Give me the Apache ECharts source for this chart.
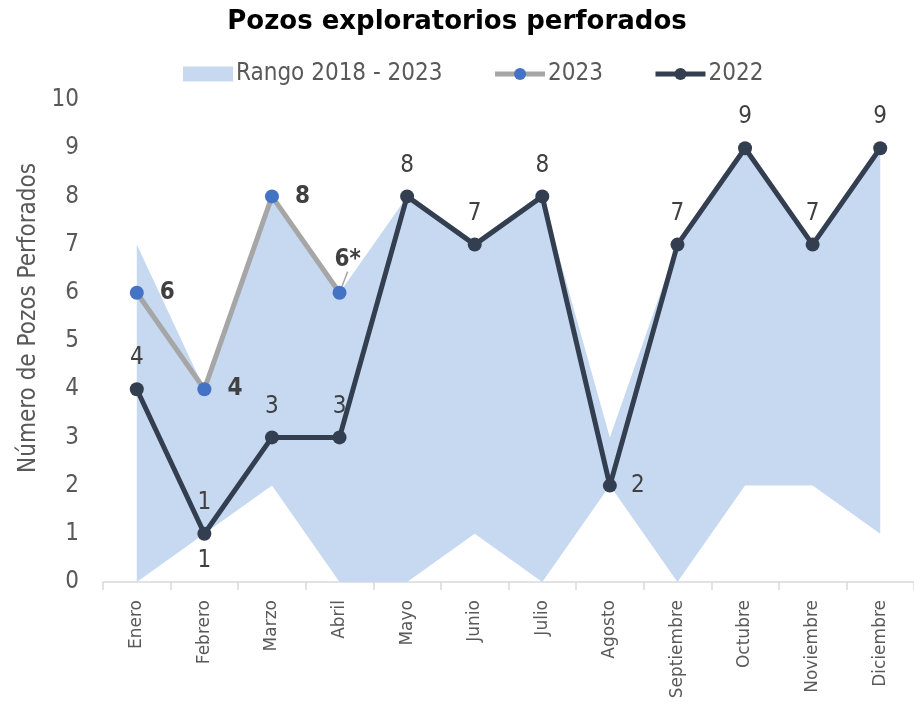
<!DOCTYPE html>
<html>
<head>
<meta charset="utf-8">
<script src="https://cdn.jsdelivr.net/npm/echarts@6/dist/echarts.min.js"></script>
<style>
html,body{margin:0;padding:0;background:#fff;}
#chart{width:914px;height:708px;}
</style>
</head>
<body>
<div id="chart"></div>
<script>
// Monthly exploratory wells drilled
const months = ['Enero','Febrero','Marzo','Abril','Mayo','Junio','Julio','Agosto','Septiembre','Octubre','Noviembre','Diciembre'];
const rangeMin = [0, 1, 2, 0, 0, 1, 0, 2, 0, 2, 2, 1];
const rangeMax = [7, 4, 8, 6, 8, 7, 8, 3, 7, 9, 7, 9];
const wells2023 = [6, 4, 8, 6];
const wells2022 = [4, 1, 3, 3, 8, 7, 8, 2, 7, 9, 7, 9];
const yTicks = [0, 1, 2, 3, 4, 5, 6, 7, 8, 9, 10];

const FONT = 'DejaVu Sans Condensed, DejaVu Sans, sans-serif';
const TXT = '#404040';

// band thickness stacked on top of the minimum
const rangeSpan = rangeMax.map((v, i) => v - rangeMin[i]);

const chart = echarts.init(document.getElementById('chart'), null, {renderer: 'canvas'});

chart.setOption({
  animation: false,
  textStyle: {fontFamily: FONT},
  title: {
    text: 'Pozos exploratorios perforados',
    left: 'center',
    top: 4,
    textStyle: {fontFamily: 'DejaVu Sans, sans-serif', fontSize: 26, fontWeight: 'bold', color: '#000'}
  },
  legend: {
    top: 57,
    left: 178,
    itemGap: 50,
    itemWidth: 50,
    itemHeight: 15,
    data: [
      {name: 'Rango 2018 - 2023', icon: 'rect'},
      {name: '2023'},
      {name: '2022'}
    ],
    lineStyle: {width: 5},
    textStyle: {fontFamily: FONT, fontSize: 24, color: '#595959', padding: [0, 0, 0, -2]}
  },
  grid: {left: 103, right: -3, top: 100, bottom: 126},
  xAxis: {
    type: 'category',
    data: months,
    boundaryGap: true,
    axisLine: {lineStyle: {color: '#d9d9d9', width: 1.5}},
    axisTick: {show: true, length: 8, lineStyle: {color: '#d9d9d9', width: 1.5}},
    axisLabel: {rotate: 90, fontSize: 17, color: '#595959', fontFamily: 'DejaVu Sans, sans-serif', margin: 18}
  },
  yAxis: {
    type: 'value',
    min: yTicks[0],
    max: yTicks[yTicks.length - 1],
    interval: 1,
    name: 'Número de Pozos Perforados',
    nameLocation: 'middle',
    nameGap: 45,
    nameRotate: 90,
    nameTextStyle: {fontSize: 24, color: '#595959', fontFamily: FONT, padding: [0, 0, 0, 46]},
    axisLine: {show: false},
    axisTick: {show: false},
    splitLine: {show: false},
    axisLabel: {fontSize: 24, color: '#595959', margin: 24}
  },
  series: [
    {
      name: 'base',
      type: 'line',
      stack: 'rango',
      data: rangeMin.map((v, i) => i === 1
        ? {value: v, label: {show: true, position: 'bottom', distance: 14, fontSize: 24, color: TXT}}
        : v),
      symbol: 'circle',
      symbolSize: 2,
      showSymbol: true,
      itemStyle: {color: 'rgba(0,0,0,0)'},
      lineStyle: {width: 0, color: 'rgba(0,0,0,0)'},
      areaStyle: {color: 'rgba(0,0,0,0)'},
      silent: true,
      z: 5
    },
    {
      name: 'Rango 2018 - 2023',
      type: 'line',
      stack: 'rango',
      data: rangeSpan,
      symbol: 'none',
      itemStyle: {color: '#c6d9f0'},
      lineStyle: {opacity: 0},
      areaStyle: {color: '#c6d9f0', opacity: 1},
      silent: true,
      z: 1
    },
    {
      name: '2023',
      type: 'line',
      data: wells2023.map((v, i) => i === 3
        ? {value: v, label: {position: 'top', distance: 14}, labelLine: {show: true}}
        : v),
      symbol: 'circle',
      symbolSize: 14,
      itemStyle: {color: '#4472c4'},
      lineStyle: {color: '#a6a6a6', width: 5},
      z: 3,
      label: {
        show: true,
        position: 'right',
        distance: 16,
        fontSize: 24,
        fontWeight: 'bold',
        color: TXT,
        formatter: p => p.dataIndex === 3 ? p.value + '*' : String(p.value)
      },
      labelLayout: p => p.dataIndex === 3 ? {dx: 8, dy: 0} : {},
      labelLine: {show: false, length2: 0, lineStyle: {color: '#a6a6a6', width: 1.5}}
    },
    {
      name: '2022',
      type: 'line',
      data: wells2022.map((v, i) => i === 7
        ? {value: v, label: {position: 'right', distance: 14}}
        : v),
      symbol: 'circle',
      symbolSize: 14,
      itemStyle: {color: '#333f50'},
      lineStyle: {color: '#333f50', width: 5},
      z: 4,
      label: {show: true, position: 'top', distance: 12, fontSize: 24, color: TXT}
    }
  ]
});
</script>
</body>
</html>
